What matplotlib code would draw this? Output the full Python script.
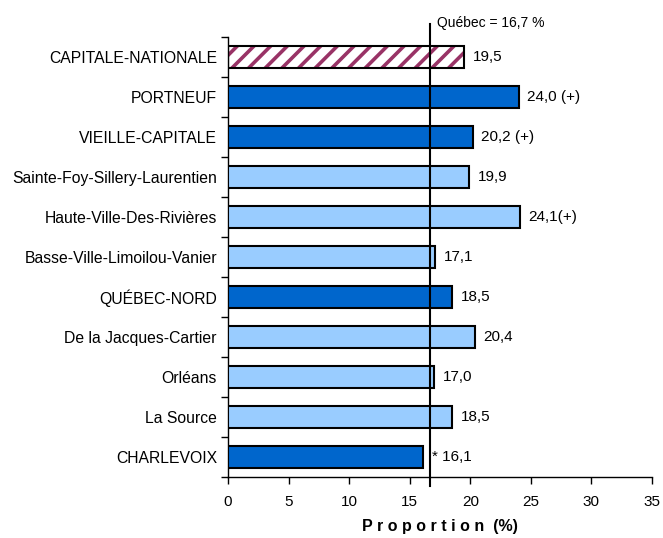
import matplotlib
matplotlib.use("Agg")
import matplotlib.pyplot as plt
import numpy as np

plt.rcParams['font.family'] = ['Liberation Sans', 'DejaVu Sans']
plt.rcParams['hatch.linewidth'] = 2.6

regions = ["CAPITALE-NATIONALE", "PORTNEUF", "VIEILLE-CAPITALE",
           "Sainte-Foy-Sillery-Laurentien", "Haute-Ville-Des-Rivières",
           "Basse-Ville-Limoilou-Vanier", "QUÉBEC-NORD", "De la Jacques-Cartier",
           "Orléans", "La Source", "CHARLEVOIX"]
values = [19.5, 24.0, 20.2, 19.9, 24.1, 17.1, 18.5, 20.4, 17.0, 18.5, 16.1]
value_labels = ["19,5", "24,0 (+)", "20,2 (+)", "19,9", "24,1(+)", "17,1",
                "18,5", "20,4", "17,0", "18,5", "* 16,1"]
kinds = ["region", "rls", "rls", "clsc", "clsc", "clsc", "rls", "clsc",
         "clsc", "clsc", "rls"]
quebec_value = 16.7
quebec_label = "Québec = 16,7 %"
xticks = [0, 5, 10, 15, 20, 25, 30, 35]

colors = {"rls": "#0066CC", "clsc": "#99CCFF", "region": "white"}

fig = plt.figure(figsize=(6.63, 5.38), dpi=100)
ax = fig.add_axes([228 / 663, 1 - 477 / 538, 424 / 663, 440 / 538])

n = len(regions)
y = np.arange(n)
bar_h = 0.55
for yi, v, k in zip(y, values, kinds):
    if k == "region":
        ax.barh(yi, v, height=bar_h, color="white", edgecolor="#993366",
                hatch="//", linewidth=0, zorder=2)
        ax.barh(yi, v, height=bar_h, fill=False, edgecolor="black",
                linewidth=1.5, zorder=3)
    else:
        ax.barh(yi, v, height=bar_h, color=colors[k], edgecolor="black",
                linewidth=1.5, zorder=3)

for yi, v, lab in zip(y, values, value_labels):
    ax.text(v + 0.7, yi, lab, va="center", ha="left", fontsize=11)

ax.set_ylim(n - 0.5, -0.5)
ax.set_xlim(0, 35)
ax.set_yticks(y)
ax.set_yticklabels(regions, fontsize=11.3)
ax.set_yticks(np.arange(n + 1) - 0.5, minor=True)
ax.tick_params(axis='y', which='major', length=0, pad=8)
ax.tick_params(axis='y', which='minor', length=5, width=1, direction='out')
ax.set_xticks(xticks)
ax.set_xticklabels([str(t) for t in xticks], fontsize=11)
ax.tick_params(axis='x', length=5, width=1, direction='out', pad=8)

for s in ["top", "right"]:
    ax.spines[s].set_visible(False)
for s in ["left", "bottom"]:
    ax.spines[s].set_linewidth(1.0)

ax.axvline(quebec_value, ymin=-0.02, ymax=1.03, color="black", linewidth=1.5,
           clip_on=False, zorder=4)
ax.text(quebec_value + 0.55, -0.85, quebec_label, ha="left", va="center",
        fontsize=10)

ax.set_xlabel("P r o p o r t i o n  (%)", fontsize=11.5, fontweight="bold",
              labelpad=7)

fig.savefig("out.png", dpi=100)
